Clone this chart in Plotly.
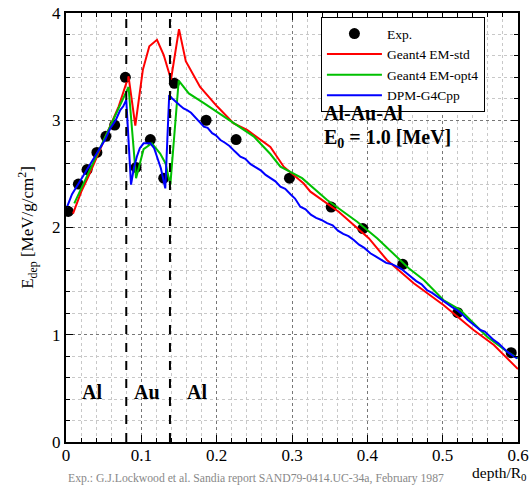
import plotly.graph_objects as go

# ---- data ----
exp_x = [0.003, 0.0164, 0.028, 0.041, 0.053, 0.0646, 0.0788, 0.093, 0.112, 0.1297,
         0.1438, 0.186, 0.2258, 0.2966, 0.352, 0.394, 0.447, 0.520, 0.591]
exp_y = [2.15, 2.405, 2.54, 2.70, 2.85, 2.955, 3.40, 2.56, 2.82, 2.46,
         3.345, 3.0, 2.82, 2.46, 2.19, 1.99, 1.657, 1.206, 0.833]

std_x = [0.0093, 0.02, 0.03, 0.04, 0.05, 0.06, 0.07, 0.083, 0.092, 0.102, 0.1106,
         0.1208, 0.1296, 0.1394, 0.150, 0.159, 0.178, 0.2005, 0.2226, 0.2404, 0.2713,
         0.289, 0.3155, 0.3244, 0.362, 0.4019, 0.426, 0.4616, 0.501, 0.541, 0.568, 0.600]
std_y = [2.13, 2.33, 2.48, 2.64, 2.80, 2.97, 3.13, 3.41, 2.95, 3.47, 3.69,
         3.75, 3.61, 3.38, 3.85, 3.55, 3.31, 3.13, 2.97, 2.91, 2.75,
         2.567, 2.41, 2.334, 2.147, 1.90, 1.697, 1.48, 1.277, 1.044, 0.904, 0.68]

opt4_x = [0.011, 0.02, 0.03, 0.04, 0.05, 0.06, 0.07, 0.083, 0.093, 0.103, 0.114,
          0.125, 0.132, 0.1385, 0.1496, 0.163, 0.183, 0.2226, 0.249, 0.2713, 0.2846,
          0.3134, 0.3466, 0.3865, 0.413, 0.455, 0.475, 0.501, 0.5236, 0.541, 0.559,
          0.5856, 0.600]
opt4_y = [2.225, 2.36, 2.50, 2.65, 2.80, 2.96, 3.11, 3.31, 2.46, 2.73, 2.785,
          2.69, 2.60, 2.40, 3.37, 3.25, 3.16, 2.97, 2.85, 2.685, 2.567,
          2.46, 2.256, 2.054, 1.90, 1.62, 1.51, 1.324, 1.23, 1.107, 0.982,
          0.842, 0.78]

dpm_x = [0.0013, 0.008, 0.0167, 0.022, 0.028, 0.036, 0.0455, 0.052, 0.0588, 0.066,
         0.072, 0.076, 0.080, 0.0863, 0.090, 0.094, 0.098, 0.103, 0.112, 0.117,
         0.1208, 0.126, 0.1318, 0.137, 0.140, 0.143, 0.147, 0.151, 0.156, 0.1607,
         0.166, 0.171, 0.177, 0.183, 0.188, 0.194, 0.199, 0.205, 0.211, 0.217,
         0.224, 0.2315, 0.238, 0.245, 0.252, 0.259, 0.265, 0.2713, 0.278, 0.2846,
         0.291, 0.298, 0.304, 0.311, 0.318, 0.325, 0.332, 0.339, 0.3466, 0.354,
         0.361, 0.368, 0.375, 0.382, 0.389, 0.396, 0.404, 0.411, 0.418, 0.425,
         0.432, 0.438, 0.444, 0.451, 0.458, 0.465, 0.472, 0.479, 0.486, 0.492,
         0.499, 0.506, 0.512, 0.519, 0.526, 0.533, 0.540, 0.546, 0.550, 0.556,
         0.562, 0.568, 0.574, 0.580, 0.586, 0.592, 0.599]
dpm_y = [2.19, 2.31, 2.41, 2.47, 2.55, 2.63, 2.74, 2.82, 2.925, 3.00,
         3.095, 3.13, 3.19, 2.40, 2.55, 2.66, 2.74, 2.785, 2.785, 2.74,
         2.66, 2.55, 2.365, 3.235, 3.21, 3.19, 3.16, 3.14, 3.11, 3.095,
         3.07, 3.03, 2.99, 2.94, 2.93, 2.88, 2.86, 2.816, 2.79, 2.76,
         2.71, 2.66, 2.64, 2.59, 2.56, 2.53, 2.49, 2.46, 2.43, 2.38,
         2.36, 2.31, 2.27, 2.194, 2.17, 2.12, 2.09, 2.07, 2.04, 2.02,
         1.97, 1.94, 1.92, 1.883, 1.84, 1.81, 1.76, 1.73, 1.70, 1.67,
         1.66, 1.64, 1.62, 1.58, 1.54, 1.50, 1.47, 1.417, 1.39, 1.36,
         1.32, 1.29, 1.26, 1.23, 1.19, 1.14, 1.10, 1.07, 1.044, 1.03,
         0.99, 0.95, 0.92, 0.88, 0.84, 0.81, 0.78]

boundaries = [0.08, 0.138]
layer_labels = ["Al", "Au", "Al"]
layer_label_x = [0.034, 0.107, 0.174]
layer_label_y = 0.47

x_ticks = [0, 0.1, 0.2, 0.3, 0.4, 0.5, 0.6]
x_ticklabels = ["0", "0.1", "0.2", "0.3", "0.4", "0.5", "0.6"]
y_ticks = [0, 1, 2, 3, 4]

SERIF = "Liberation Serif"

fig = go.Figure()
fig.add_trace(go.Scatter(x=exp_x, y=exp_y, mode="markers", name="Exp.",
                         marker=dict(color="black", size=11)))
fig.add_trace(go.Scatter(x=std_x, y=std_y, mode="lines", name="Geant4 EM-std",
                         line=dict(color="#ff0000", width=2)))
fig.add_trace(go.Scatter(x=opt4_x, y=opt4_y, mode="lines", name="Geant4 EM-opt4",
                         line=dict(color="#00c000", width=2)))
fig.add_trace(go.Scatter(x=dpm_x, y=dpm_y, mode="lines", name="DPM-G4Cpp",
                         line=dict(color="#0000ff", width=2)))

for b in boundaries:
    fig.add_shape(type="line", x0=b, x1=b, y0=0, y1=1, xref="x", yref="paper",
                  line=dict(color="black", width=2, dash="dash"))

for lab, lx in zip(layer_labels, layer_label_x):
    fig.add_annotation(x=lx, y=layer_label_y, text="<b>" + lab + "</b>", showarrow=False,
                       font=dict(family=SERIF, size=20, color="black"))

fig.add_annotation(x=0.566, y=0.766, xref="paper", yref="paper", xanchor="left", yanchor="middle",
                   text="<b>Al-Au-Al</b>", showarrow=False,
                   font=dict(family=SERIF, size=20, color="black"))
fig.add_annotation(x=0.566, y=0.708, xref="paper", yref="paper", xanchor="left", yanchor="middle",
                   text="<b>E<sub>0</sub> = 1.0 [MeV]</b>", showarrow=False,
                   font=dict(family=SERIF, size=20, color="black"))
fig.add_annotation(x=1.024, y=-0.1, xref="paper", yref="paper", xanchor="right", yanchor="bottom",
                   text="depth/R<sub>0</sub>", showarrow=False,
                   font=dict(family=SERIF, size=15.5, color="black"))
fig.add_annotation(x=0.0, y=-0.084, xref="paper", yref="paper", xanchor="left", yanchor="middle",
                   text="Exp.: G.J.Lockwood et al. Sandia report SAND79-0414.UC-34a, February 1987",
                   showarrow=False, font=dict(family=SERIF, size=11.7, color="#888888"))

axis_common = dict(showline=True, linecolor="black", linewidth=2, mirror="allticks",
                   ticks="inside", ticklen=7, tickwidth=1, tickcolor="black",
                   showgrid=True, gridcolor="#777777", griddash="dot", gridwidth=1,
                   zeroline=False, automargin=False,
                   tickfont=dict(family=SERIF, size=17, color="black"))

fig.update_xaxes(range=[0, 0.6], tickvals=x_ticks, ticktext=x_ticklabels,
                 ticklabelstandoff=-3,
                 minor=dict(dtick=0.02, ticks="inside", ticklen=4, showgrid=True,
                            gridcolor="#c8c8c8", griddash="dot", tickcolor="black"),
                 **axis_common)
fig.update_yaxes(range=[0, 4], tickvals=y_ticks,
                 minor=dict(dtick=0.2, ticks="inside", ticklen=4, showgrid=True,
                            gridcolor="#c8c8c8", griddash="dot", tickcolor="black"),
                 title=dict(text="E<sub>dep</sub> [MeV/g/cm<sup>2</sup>]", standoff=14,
                            font=dict(family=SERIF, size=17, color="black")),
                 **axis_common)

fig.update_layout(
    width=531, height=485,
    margin=dict(l=66, r=13, t=13, b=43),
    plot_bgcolor="white", paper_bgcolor="white",
    font=dict(family=SERIF),
    legend=dict(x=0.564, y=0.99, xanchor="left", yanchor="top",
                bordercolor="black", borderwidth=1, bgcolor="white",
                font=dict(family=SERIF, size=13.5, color="black"),
                tracegroupgap=0, itemwidth=55),
    showlegend=True,
)

fig.write_html("out.html")
